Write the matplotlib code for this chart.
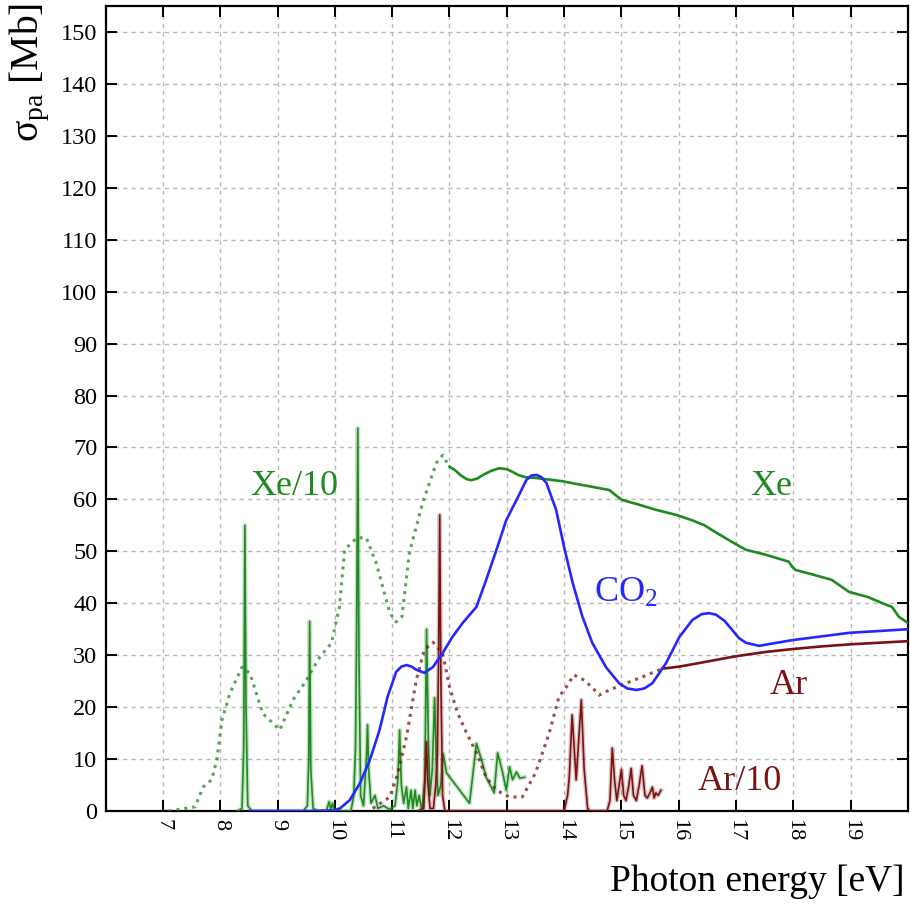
import matplotlib
matplotlib.use("Agg")
import matplotlib.pyplot as plt

plt.rcParams['font.family'] = ['Liberation Serif', 'DejaVu Serif']
plt.rcParams['mathtext.fontset'] = 'custom'
plt.rcParams['mathtext.rm'] = 'Liberation Serif'
plt.rcParams['mathtext.it'] = 'Liberation Serif:italic'

# ---- data (photon energy in eV, cross section in Mb) ----
xe_x = [12.0, 12.1, 12.2, 12.3, 12.38, 12.48, 12.6, 12.73, 12.87, 13.0, 13.1, 13.2, 13.31,
        13.52, 13.75, 13.97, 14.2, 14.5, 14.79, 14.9, 15.01, 15.3, 15.6, 15.96, 16.23,
        16.45, 16.7, 16.93, 17.17, 17.5, 17.92, 17.98, 18.04, 18.35, 18.67, 18.97, 19.3,
        19.6, 19.72, 19.84, 20.0]
xe_y = [66.3, 65.6, 64.6, 63.9, 63.7, 64.0, 64.8, 65.5, 66.0, 65.8, 65.3, 64.7, 64.3,
        64.1, 63.8, 63.5, 63.0, 62.4, 61.8, 60.8, 59.9, 59.0, 58.0, 57.0, 56.0,
        55.0, 53.3, 51.8, 50.3, 49.4, 48.0, 47.0, 46.4, 45.5, 44.5, 42.2, 41.2,
        39.8, 39.3, 37.4, 36.2]

xe_dot_x = [7.10, 7.56, 7.70, 7.85, 7.94, 8.03, 8.17, 8.38, 8.52, 8.74, 9.04, 9.27,
            9.47, 9.74, 9.94, 10.08, 10.17, 10.38, 10.55, 10.72, 10.96, 11.07, 11.17,
            11.30, 11.53, 11.77, 11.88, 12.0]
xe_dot_y = [0.0, 0.8, 4.6, 6.0, 9.8, 17.5, 22.7, 27.7, 26.5, 18.8, 15.6, 21.4,
            24.6, 29.7, 32.3, 39.3, 50.3, 52.6, 52.6, 47.8, 38.1, 36.4, 37.4,
            49.7, 59.3, 67.0, 68.5, 66.3]

xe_lines_x = [8.30, 8.38, 8.41, 8.43, 8.45, 8.48, 8.55, 9.45, 9.52, 9.545, 9.56, 9.58,
              9.62, 9.70, 9.85, 9.90, 9.93, 9.96, 9.99, 10.28, 10.33, 10.36, 10.38,
              10.40, 10.42, 10.45, 10.50, 10.55, 10.57, 10.59, 10.63, 10.70, 10.75,
              10.85, 10.95, 11.05, 11.10, 11.13, 11.16, 11.20, 11.25, 11.28, 11.33,
              11.36, 11.40, 11.43, 11.47, 11.52, 11.57, 11.60, 11.63, 11.66, 11.70,
              11.74, 11.77, 11.80, 11.85, 11.89, 11.95, 12.35, 12.47, 12.56, 12.64,
              12.78, 12.84, 12.93, 12.99, 13.05, 13.10, 13.17, 13.23, 13.31]
xe_lines_y = [0.0, 0.5, 12.0, 55.0, 20.0, 1.0, 0.0, 0.0, 1.0, 10.0, 36.5, 8.0,
              0.5, 0.0, 0.0, 1.8, 0.3, 1.5, 0.0, 0.0, 3.0, 12.0, 35.0,
              73.7, 30.0, 3.0, 1.0, 10.0, 16.6, 8.0, 1.5, 3.0, 0.5,
              1.0, 0.3, 1.0, 6.0, 15.6, 5.0, 1.5, 4.6, 0.5, 4.0,
              0.5, 4.0, 1.0, 3.0, 0.0, 6.0, 35.0, 14.3, 3.0, 8.0,
              21.8, 9.8, 3.0, 5.0, 11.0, 7.3, 1.5, 13.0, 9.8, 6.5,
              3.5, 11.2, 7.3, 4.0, 8.5, 6.0, 7.5, 6.3, 6.5]

co2_x = [8.52, 9.5, 9.97, 10.09, 10.26, 10.44, 10.61, 10.78, 10.92, 11.07, 11.16, 11.25,
         11.34, 11.42, 11.56, 11.71, 11.88, 12.05, 12.23, 12.47, 12.64, 12.82, 12.99,
         13.17, 13.34, 13.43, 13.52, 13.60, 13.69, 13.86, 14.00, 14.15, 14.32, 14.49,
         14.73, 14.96, 15.10, 15.26, 15.40, 15.54, 15.78, 16.01, 16.24, 16.40, 16.53,
         16.65, 16.80, 16.93, 17.05, 17.17, 17.40, 17.98, 18.97, 20.0]
co2_y = [0.0, 0.0, 0.1, 0.5, 2.1, 5.4, 9.8, 15.6, 22.0, 26.8, 27.8, 28.1,
         27.8, 27.2, 26.6, 27.7, 30.4, 33.5, 36.2, 39.3, 44.5, 50.3, 56.0,
         59.9, 63.7, 64.6, 64.7, 64.3, 63.2, 58.0, 50.8, 43.9, 37.4, 32.4,
         27.7, 24.6, 23.6, 23.3, 23.6, 24.6, 28.5, 33.5, 36.8, 37.9, 38.1,
         37.8, 36.6, 34.9, 33.3, 32.4, 31.8, 32.9, 34.3, 35.0]

ar_x = [15.71, 16.01, 16.36, 17.0, 17.5, 18.0, 18.5, 19.0, 19.5, 20.0]
ar_y = [27.4, 27.8, 28.5, 29.8, 30.6, 31.2, 31.7, 32.1, 32.4, 32.7]

ar_dot_x = [10.66, 10.96, 11.10, 11.25, 11.42, 11.56, 11.71, 11.88, 12.00, 12.14, 12.30,
            12.47, 12.64, 12.82, 13.04, 13.27, 13.50, 13.74, 13.91, 14.04, 14.17, 14.35,
            14.50, 14.61, 14.79, 15.08, 15.36, 15.71]
ar_dot_y = [0.5, 2.7, 7.3, 14.3, 25.2, 31.0, 32.5, 30.4, 23.9, 18.9, 15.0,
            11.2, 6.5, 4.0, 2.7, 2.7, 7.3, 15.0, 22.0, 23.9, 26.2, 25.2,
            23.7, 22.3, 23.3, 24.6, 25.8, 27.4]

ar_lines_x = [11.45, 11.55, 11.58, 11.60, 11.62, 11.66, 11.72, 11.76, 11.79, 11.81, 11.83,
              11.85, 11.88, 11.92, 14.00, 14.06, 14.09, 14.14, 14.21, 14.30, 14.35, 14.41,
              14.45, 14.75, 14.80, 14.84, 14.88, 14.92, 14.96, 15.00, 15.04, 15.08,
              15.13, 15.17, 15.21, 15.26, 15.31, 15.36, 15.41, 15.45, 15.50, 15.54,
              15.57, 15.60, 15.64, 15.69]
ar_lines_y = [0.0, 0.5, 8.0, 13.3, 6.0, 0.5, 0.5, 5.0, 11.0, 30.0, 57.0,
              25.0, 3.0, 0.0, 0.0, 3.0, 6.5, 18.5, 6.0, 21.4, 8.0, 0.5,
              0.0, 0.0, 2.0, 12.1, 6.0, 2.0, 5.0, 8.0, 3.0, 2.0,
              5.0, 8.2, 3.0, 2.0, 5.0, 8.7, 3.0, 2.5, 3.5, 4.6,
              2.5, 3.5, 3.0, 4.0]

x_ticks = list(range(7, 20))
y_ticks = list(range(0, 151, 10))

GREEN = '#1f8a1f'
BLUE = '#2626ff'
BROWN = '#7a1212'

fig = plt.figure(figsize=(9.10, 9.07), dpi=100)
ax = fig.add_axes([105.6 / 910, 1 - 811 / 907, (908 - 105.6) / 910, (811 - 6) / 907])

# sharp lines: pale halo underneath a thin core
ax.plot(xe_lines_x, xe_lines_y, color=GREEN, lw=3.2, alpha=0.25, zorder=3)
ax.plot(xe_lines_x, xe_lines_y, color=GREEN, lw=1.2, zorder=3)
ax.plot(ar_lines_x, ar_lines_y, color=BROWN, lw=3.2, alpha=0.25, zorder=3)
ax.plot(ar_lines_x, ar_lines_y, color=BROWN, lw=1.2, zorder=3)

# continua
ax.plot(xe_dot_x, xe_dot_y, color=GREEN, lw=2.2, ls=(0, (1, 1.6)), alpha=0.75, zorder=4)
ax.plot(ar_dot_x, ar_dot_y, color=BROWN, lw=2.2, ls=(0, (1, 1.6)), alpha=0.75, zorder=4)
ax.plot(xe_x, xe_y, color=GREEN, lw=1.9, zorder=4, solid_joinstyle='round')
ax.plot(ar_x, ar_y, color=BROWN, lw=1.9, zorder=4, solid_joinstyle='round')
ax.plot(co2_x, co2_y, color=BLUE, lw=1.9, zorder=5, solid_joinstyle='round')

ax.set_xlim(6, 20)
ax.set_ylim(0, 155)
ax.set_xticks(x_ticks)
ax.set_yticks(y_ticks)
ax.set_xticklabels([str(t) for t in x_ticks], rotation=-90, fontsize=16)
ax.set_yticklabels([str(t) for t in y_ticks], fontsize=17.5)
ax.tick_params(direction='in', length=8, width=1.4, top=True, right=True,
               labelright=False, labeltop=False, pad=6)
ax.grid(True, color='#b8b8b8', lw=1.0, ls=(0, (3, 3)))
ax.set_axisbelow(True)
for s in ax.spines.values():
    s.set_linewidth(1.6)

# curve labels
ax.text(9.30, 62.4, 'Xe/10', color=GREEN, fontsize=26, ha='center', va='center')
ax.text(17.61, 62.4, 'Xe', color=GREEN, fontsize=26, ha='center', va='center')
ax.text(15.08, 42.0, r'CO$_2$', color=BLUE, fontsize=26, ha='center', va='center')
ax.text(17.92, 24.1, 'Ar', color=BROWN, fontsize=26, ha='center', va='center')
ax.text(17.07, 5.6, 'Ar/10', color=BROWN, fontsize=26, ha='center', va='center')

fig.text(905 / 910, 1 - 882 / 907, 'Photon energy [eV]', fontsize=27,
         ha='right', va='center')
fig.text(30 / 910, 1 - 3 / 907, r'σ$_{\mathrm{pa}}$ [Mb]', fontsize=28.5,
         rotation=90, ha='center', va='top')

fig.savefig('out.png', dpi=100)
